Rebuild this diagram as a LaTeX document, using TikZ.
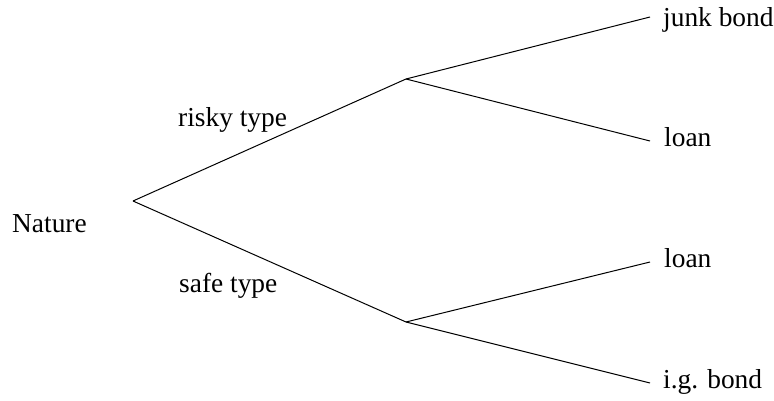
\documentclass[tikz,border=0pt]{standalone}
\usepackage{fontspec}
\setmainfont{Liberation Serif}
\begin{document}
\begin{tikzpicture}[x=1pt,y=-1pt,
  branch/.style={draw=black,line width=1pt},
  lbl/.style={inner sep=0pt,anchor=base west,font=\fontsize{27.4}{32}\selectfont}]
\useasboundingbox (0,0) rectangle (774,401);
\coordinate (root) at (133,201);
\coordinate (up) at (406,79);
\coordinate (lo) at (406,322);
\coordinate (l1) at (650,17);
\coordinate (l2) at (650,141);
\coordinate (l3) at (650,262);
\coordinate (l4) at (650,383);
\draw[branch] (root) -- (up);
\draw[branch] (root) -- (lo);
\draw[branch] (up) -- (l1);
\draw[branch] (up) -- (l2);
\draw[branch] (lo) -- (l3);
\draw[branch] (lo) -- (l4);
\node[lbl] (nat) at (12,232) {Nature};
\node[lbl] (risky) at (178,127) {risky type};
\node[lbl] (safe) at (179,292) {safe type};
\node[lbl] (jb) at (663,27) {junk bond};
\node[lbl] (loan1) at (664,147) {loan};
\node[lbl] (loan2) at (664,267) {loan};
\node[lbl] (ig) at (663,388) {i.g. bond};
\end{tikzpicture}
\end{document}
